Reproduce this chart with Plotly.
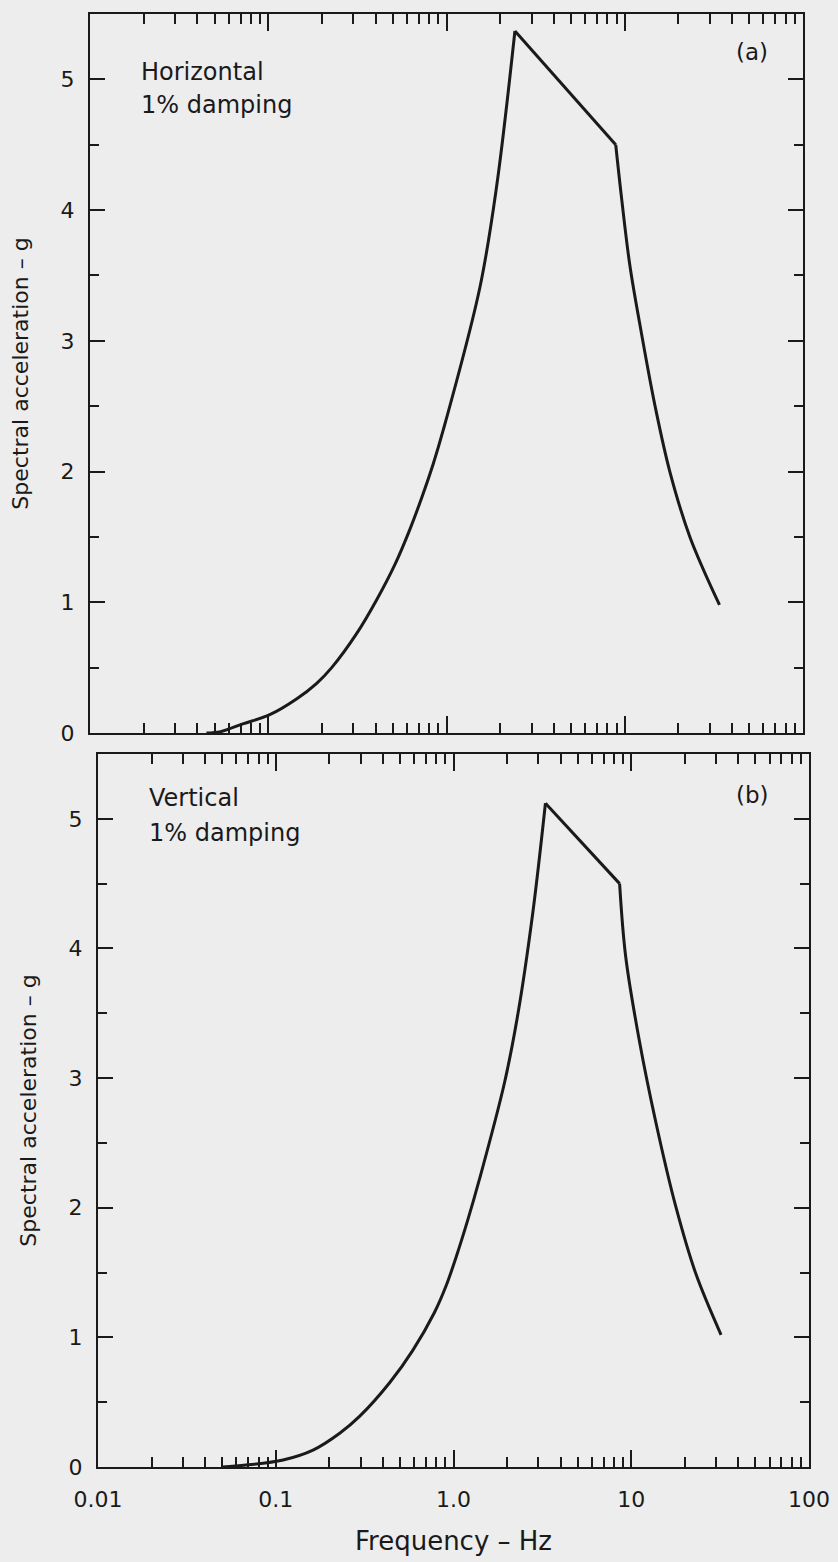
import plotly.graph_objects as go

# ---- data ----
freq_h = [0.045, 0.054, 0.072, 0.102, 0.144, 0.187, 0.227, 0.313, 0.406, 0.514,
          0.624, 0.726, 0.843, 0.96, 1.54, 1.91, 2.42,
          8.9, 9.62, 10.7, 12.4, 14.8, 17.9, 23.2, 34.0]
acc_h = [0.0, 0.01, 0.07, 0.14, 0.26, 0.38, 0.50, 0.76, 1.02, 1.29,
         1.56, 1.80, 2.06, 2.32, 3.41, 4.18, 5.37,
         4.50, 4.08, 3.57, 3.06, 2.50, 2.00, 1.50, 0.98]

freq_v = [0.05, 0.068, 0.110, 0.162, 0.229, 0.296, 0.437, 0.59, 0.78, 0.91,
          1.035, 1.20, 1.40, 1.94, 2.30, 2.79, 3.29,
          8.6, 9.3, 11.1, 13.8, 17.8, 23.1, 32.0]
acc_v = [0.0, 0.015, 0.054, 0.13, 0.26, 0.39, 0.65, 0.90, 1.19, 1.40,
         1.62, 1.90, 2.22, 2.97, 3.49, 4.27, 5.12,
         4.50, 3.94, 3.29, 2.65, 2.01, 1.49, 1.02]

x_tickvals = [0.01, 0.1, 1, 10, 100]
x_ticktext = ["0.01", "0.1", "1.0", "10", "100"]
x_minor_digits = [2, 3, 4, 5, 6, 7, 8, 9]
x_decades = [0.01, 0.1, 1, 10]
y_tickvals = [0, 1, 2, 3, 4, 5]
y_ticktext = ["0", "1", "2", "3", "4", "5"]
y_minorvals = [0.5, 1.5, 2.5, 3.5, 4.5, 5.5]

x_minorvals = [d * k for d in x_decades for k in x_minor_digits]

W, H = 838, 1562
INK = "#1a1a1a"
BG = "#ededed"
FONT = "DejaVu Sans"

fig = go.Figure()


def add_curve(fx, ay, xa, ya):
    # smooth rising branch, straight segment peak->knee, smooth falling branch
    pk = ay.index(max(ay))
    kn = pk + 1
    line = dict(color=INK, width=3)
    fig.add_trace(go.Scatter(x=fx[:pk + 1], y=ay[:pk + 1], mode="lines", xaxis=xa, yaxis=ya,
                             line=dict(line, shape="spline", smoothing=1.0), showlegend=False,
                             hoverinfo="skip"))
    fig.add_trace(go.Scatter(x=fx[pk:kn + 1], y=ay[pk:kn + 1], mode="lines", xaxis=xa, yaxis=ya,
                             line=line, showlegend=False, hoverinfo="skip"))
    fig.add_trace(go.Scatter(x=fx[kn:], y=ay[kn:], mode="lines", xaxis=xa, yaxis=ya,
                             line=dict(line, shape="spline", smoothing=1.0), showlegend=False,
                             hoverinfo="skip"))


add_curve(freq_h, acc_h, "x", "y")
add_curve(freq_v, acc_v, "x2", "y2")


def xax(domain, anchor, labels):
    return dict(type="log", range=[-2, 2], domain=domain, anchor=anchor,
                showline=True, linewidth=2.2, linecolor=INK, mirror="ticks",
                ticks="inside", ticklen=17, tickwidth=1.6, tickcolor=INK,
                tickmode="array", tickvals=x_tickvals, ticktext=x_ticktext,
                showticklabels=labels, showgrid=False, zeroline=False, automargin=False,
                tickfont=dict(size=22, color=INK, family=FONT),
                minor=dict(tickmode="array", tickvals=x_minorvals, ticks="inside",
                           ticklen=10, tickwidth=1.6, tickcolor=INK, showgrid=False))


def yax(domain, anchor):
    return dict(range=[0, 5.5], domain=domain, anchor=anchor,
                showline=True, linewidth=2.2, linecolor=INK, mirror="ticks",
                ticks="inside", ticklen=15, tickwidth=1.6, tickcolor=INK,
                tickmode="array", tickvals=y_tickvals, ticktext=y_ticktext,
                showgrid=False, zeroline=False, automargin=False, ticklabelstandoff=9,
                tickfont=dict(size=22, color=INK, family=FONT),
                title=dict(text="Spectral acceleration \u2013 g", standoff=26,
                           font=dict(size=22, color=INK, family=FONT)),
                minor=dict(tickmode="array", tickvals=y_minorvals, ticks="inside",
                           ticklen=9, tickwidth=1.6, tickcolor=INK, showgrid=False))


xa1 = xax([90 / W, 803 / W], "y", False)
xa2 = xax([98 / W, 809 / W], "y2", True)
xa2["ticklabelstandoff"] = 11
xa2["title"] = dict(text="Frequency \u2013 Hz", standoff=21,
                    font=dict(size=26, color=INK, family=FONT))
ya1 = yax([1 - 733 / H, 1 - 14 / H], "x")
ya2 = yax([1 - 1467 / H, 1 - 754 / H], "x2")


def note(text, x, y, xanchor="left", size=24):
    return dict(text=text, x=x / W, y=1 - y / H, xref="paper", yref="paper",
                xanchor=xanchor, yanchor="middle", showarrow=False,
                font=dict(size=size, color=INK, family=FONT))


annotations = [
    note("Horizontal", 139, 72),
    note("1% damping", 139, 105),
    note("(a)", 752, 52, "center", 23),
    note("Vertical", 147, 798),
    note("1% damping", 147, 833),
    note("(b)", 752, 795, "center", 23),
]

fig.update_layout(width=W, height=H, autosize=False,
                  margin=dict(l=0, r=0, t=0, b=0, autoexpand=False),
                  paper_bgcolor=BG, plot_bgcolor=BG,
                  font=dict(family=FONT, color=INK),
                  xaxis=xa1, yaxis=ya1, xaxis2=xa2, yaxis2=ya2,
                  annotations=annotations)

fig.write_html("out.html", config={"displayModeBar": False},
               post_script="document.body.style.margin='0';")
